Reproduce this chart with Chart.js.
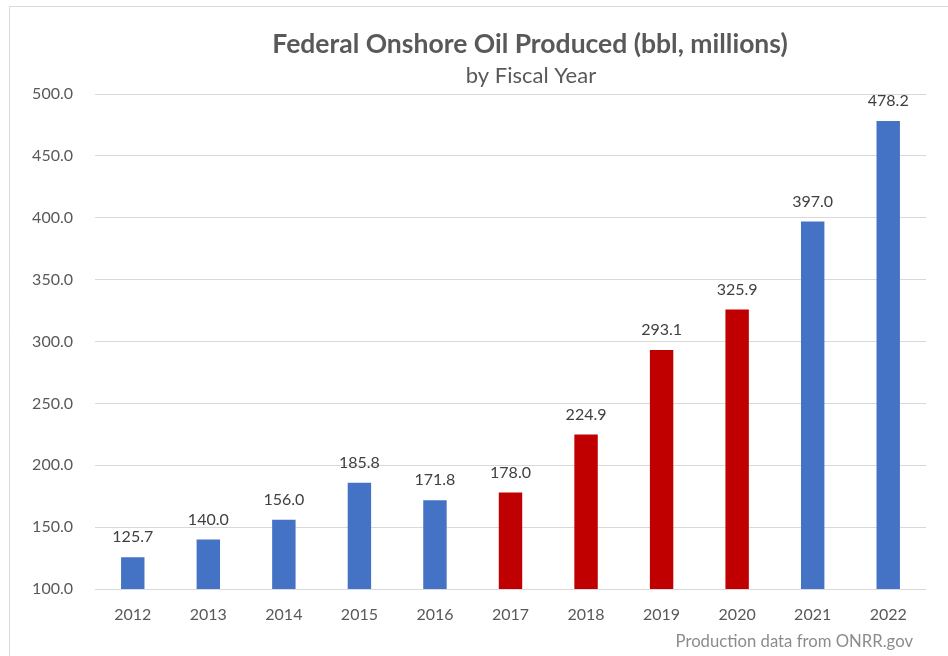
<!DOCTYPE html>
<html>
<head>
<meta charset="utf-8">
<script src="https://cdn.jsdelivr.net/npm/chart.js@4.4.0/dist/chart.umd.min.js"></script>
<style>
html,body{margin:0;padding:0;background:#fff;}
canvas{display:block;}
</style>
</head>
<body>
<canvas id="c" width="948" height="656"></canvas>
<script>
const years = ["2012","2013","2014","2015","2016","2017","2018","2019","2020","2021","2022"];
const production = [125.7,140.0,156.0,185.8,171.8,178.0,224.9,293.1,325.9,397.0,478.2];
const barColors = ["#4472C4","#4472C4","#4472C4","#4472C4","#4472C4","#C00000","#C00000","#C00000","#C00000","#4472C4","#4472C4"];
const titleText = "Federal Onshore Oil Produced (bbl, millions)";
const subtitleText = "by Fiscal Year";
const footerText = "Production data from ONRR.gov";

const FONT = "Lato, 'Open Sans', sans-serif";

const decorPlugin = {
  id: 'decor',
  beforeDraw(chart) {
    const ctx = chart.ctx;
    ctx.save();
    ctx.fillStyle = '#fff';
    ctx.fillRect(0, 0, chart.width, chart.height);
    ctx.strokeStyle = '#d9d9d9';
    ctx.lineWidth = 1;
    ctx.beginPath();
    ctx.moveTo(9.5, chart.height);
    ctx.lineTo(9.5, 6.5);
    ctx.lineTo(chart.width, 6.5);
    ctx.stroke();
    ctx.restore();
  },
  afterDraw(chart) {
    const ctx = chart.ctx;
    ctx.save();
    ctx.textAlign = 'center';
    ctx.textBaseline = 'middle';
    ctx.fillStyle = '#595959';
    ctx.font = "bold 26.5px " + FONT;
    ctx.fillText(titleText, 530, 44);
    ctx.font = "22px " + FONT;
    ctx.fillText(subtitleText, 531, 76);
    ctx.textAlign = 'right';
    ctx.fillStyle = '#8c8c8c';
    ctx.font = "16.7px " + FONT;
    ctx.fillText(footerText, 913, 642);
    ctx.restore();
  },
  afterDatasetsDraw(chart) {
    const ctx = chart.ctx;
    const meta = chart.getDatasetMeta(0);
    ctx.save();
    ctx.textAlign = 'center';
    ctx.textBaseline = 'bottom';
    ctx.fillStyle = '#404040';
    ctx.font = "16px " + FONT;
    meta.data.forEach((bar, i) => {
      ctx.fillText(production[i].toFixed(1), bar.x, bar.y - 12);
    });
    ctx.restore();
  }
};

new Chart(document.getElementById('c'), {
  type: 'bar',
  data: {
    labels: years,
    datasets: [{
      data: production,
      backgroundColor: barColors,
      borderWidth: 0,
      categoryPercentage: 1.0,
      barPercentage: 0.31
    }]
  },
  options: {
    responsive: false,
    animation: false,
    devicePixelRatio: 1,
    layout: { padding: { top: 94, right: 22, left: 0, bottom: 0 } },
    plugins: { legend: { display: false }, title: { display: false }, tooltip: { enabled: false } },
    scales: {
      x: {
        grid: { display: false },
        border: { display: false },
        ticks: { color: '#595959', font: { family: FONT, size: 16 }, padding: 8, maxRotation: 0 },
        afterFit(s) { s.height = 67; }
      },
      y: {
        min: 100, max: 500,
        grid: { color: '#d9d9d9', drawTicks: false },
        border: { display: false },
        ticks: { stepSize: 50, color: '#595959', font: { family: FONT, size: 16 }, padding: 22,
                 callback: v => v.toFixed(1) },
        afterFit(s) { s.width = 95; }
      }
    }
  },
  plugins: [decorPlugin]
});
</script>
</body>
</html>
